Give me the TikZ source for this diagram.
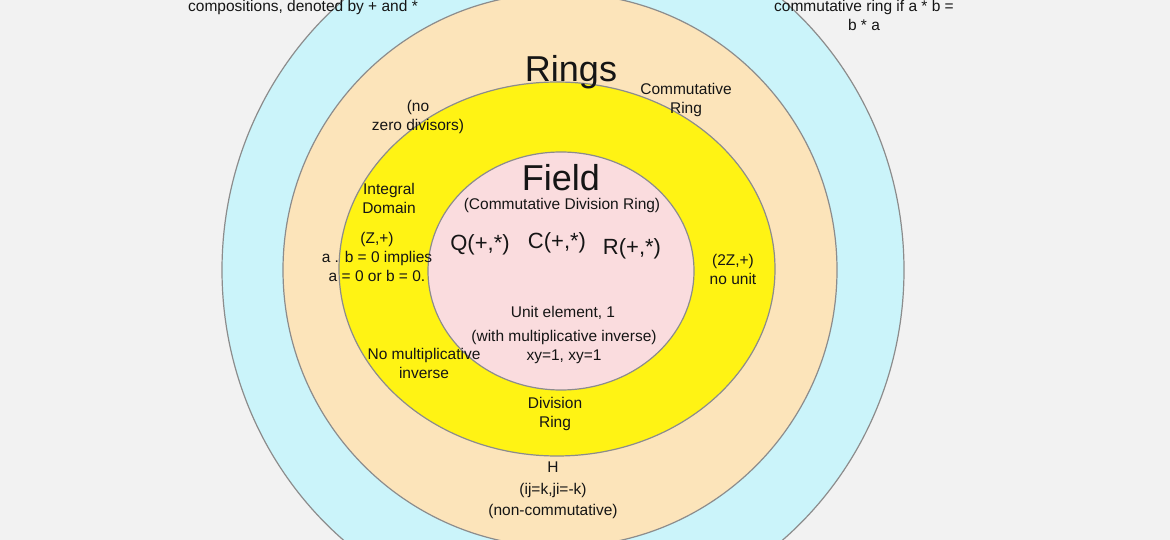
\documentclass[tikz,border=0pt]{standalone}
\usepackage{fontspec}
\setmainfont{Liberation Sans}
\definecolor{bg}{HTML}{F2F2F2}
\definecolor{cblue}{HTML}{CBF4FA}
\definecolor{cpeach}{HTML}{FCE4BA}
\definecolor{cyellow}{HTML}{FFF314}
\definecolor{cpink}{HTML}{FADCDE}
\definecolor{cedge}{HTML}{8C8C8C}
\definecolor{ctext}{HTML}{151515}
\begin{document}
\begin{tikzpicture}[x=1pt,y=-1pt,
  ring/.style={draw=cedge,line width=1.2pt},
  lbl/.style={inner sep=0pt,align=center,text=ctext,font=\fontsize{15.5}{19}\selectfont},
  big/.style={inner sep=0pt,text=ctext,font=\fontsize{36}{40}\selectfont},
  mid/.style={inner sep=0pt,text=ctext,font=\fontsize{22}{26}\selectfont}]
\useasboundingbox (0,0) rectangle (1170,540);
\clip (0,0) rectangle (1170,540);
\fill[bg] (0,0) rectangle (1170,540);
\draw[ring,fill=cblue] (563,270) ellipse [x radius=341pt, y radius=353pt];
\draw[ring,fill=cpeach] (560,270) ellipse [x radius=277pt, y radius=277pt];
\draw[ring,fill=cyellow] (557,269) ellipse [x radius=218pt, y radius=187pt];
\draw[ring,fill=cpink] (561,271) ellipse [x radius=133pt, y radius=119pt];
% top texts
\node[lbl] (comp) at (303,7) {compositions, denoted by + and *};
\node[lbl] (comm) at (864,15) {commutative ring if a * b =\\ b * a};
% rings
\node[big] (rings) at (571,72) {Rings};
\node[lbl] (commring) at (686,100) {Commutative\\Ring};
\node[lbl] (nozero) at (418,117) {(no\\zero divisors)};
\node[lbl] (intdom) at (389,198) {Integral\\Domain};
\node[lbl] (zplus) at (377,257) {(Z,+)\\a . b = 0 implies\\a = 0 or b = 0.};
\node[lbl] (twoz) at (733,269) {(2Z,+)\\no unit};
\node[lbl] (nomult) at (424,363) {No multiplicative\\inverse};
\node[lbl] (divring) at (555,414) {Division\\Ring};
\node[lbl] (hq) at (553,490) {H\\[3pt](ij=k,ji=-k)\\[2pt](non-commutative)};
% field
\node[big] (field) at (561,178) {Field};
\node[lbl] (cdr) at (562,205) {(Commutative Division Ring)};
\node[mid] (q) at (480,245) {Q(+,*)};
\node[mid] (c) at (557,243) {C(+,*)};
\node[mid] (r) at (632,249) {R(+,*)};
\node[lbl] (unit) at (563,313) {Unit element, 1};
\node[lbl] (inv) at (564,347) {(with multiplicative inverse)\\xy=1, xy=1};
\end{tikzpicture}
\end{document}
